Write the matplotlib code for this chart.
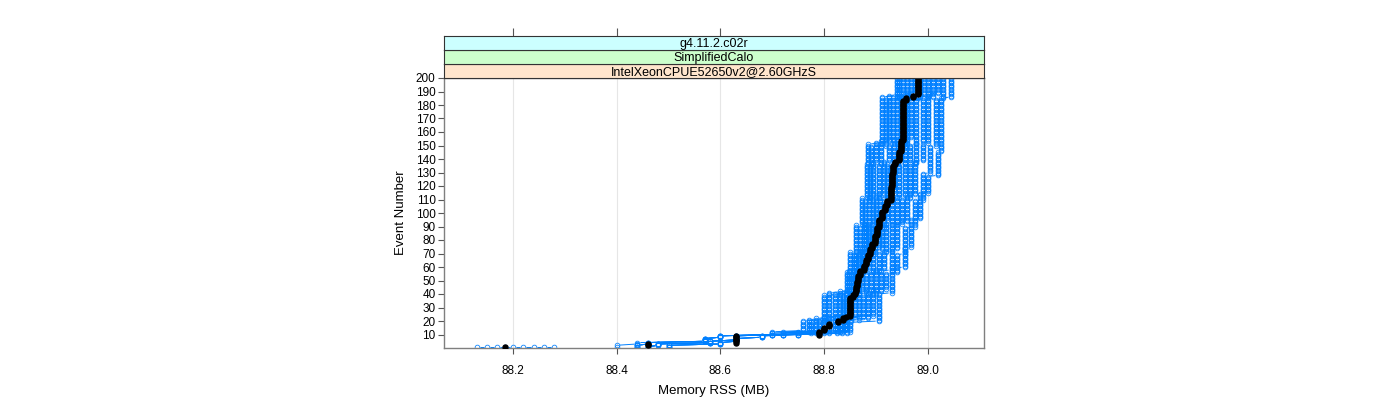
import numpy as np
import matplotlib.pyplot as plt
from matplotlib.collections import LineCollection

plt.rcParams['font.family'] = ['Liberation Sans', 'DejaVu Sans']

strip_labels = ['g4.11.2.c02r', 'SimplifiedCalo', 'IntelXeonCPUE52650v2@2.60GHzS']
strip_colors = ['#ccffff', '#ccffcc', '#ffe5cc']

x_ticks = [88.2, 88.4, 88.6, 88.8, 89.0]
y_ticks = list(range(10, 201, 10))
n_events = 200

# start-up samples, all logged at event 1
startup_mem = [88.13, 88.15, 88.17, 88.185, 88.20, 88.22, 88.24, 88.26, 88.28]

# each run: (first event of step, memory RSS in MB)
runs = [
    [(1, 88.40), (3, 88.44), (5, 88.57), (8, 88.60), (10, 88.70), (13, 88.76), (21, 88.80), (40, 88.845), (57, 88.85), (72, 88.862), (92, 88.872), (112, 88.882), (137, 88.885), (152, 88.912), (187, 88.94)],
    [(1, 88.44), (3, 88.46), (5, 88.57), (8, 88.60), (10, 88.70), (12, 88.77), (22, 88.81), (42, 88.848), (58, 88.858), (70, 88.87), (90, 88.878), (110, 88.888), (135, 88.89), (150, 88.92), (185, 88.945)],
    [(1, 88.44), (3, 88.46), (5, 88.57), (8, 88.60), (10, 88.70), (11, 88.775), (20, 88.82), (41, 88.852), (55, 88.862), (73, 88.876), (93, 88.886), (113, 88.895), (138, 88.90), (153, 88.925), (188, 88.952)],
    [(1, 88.44), (3, 88.46), (5, 88.57), (8, 88.60), (10, 88.70), (11, 88.785), (23, 88.83), (43, 88.856), (59, 88.868), (71, 88.88), (91, 88.895), (111, 88.905), (136, 88.91), (154, 88.932), (186, 88.96)],
    [(1, 88.44), (3, 88.46), (5, 88.57), (8, 88.60), (10, 88.70), (12, 88.79), (21, 88.836), (39, 88.86), (56, 88.872), (74, 88.886), (94, 88.90), (114, 88.915), (139, 88.925), (151, 88.94), (187, 88.968)],
    [(1, 88.46), (2, 88.48), (4, 88.58), (6, 88.63), (10, 88.72), (11, 88.80), (24, 88.842), (42, 88.864), (57, 88.876), (72, 88.892), (92, 88.908), (112, 88.922), (137, 88.935), (155, 88.948), (189, 88.975)],
    [(1, 88.46), (2, 88.48), (4, 88.58), (6, 88.63), (10, 88.72), (11, 88.81), (22, 88.848), (40, 88.868), (58, 88.88), (70, 88.898), (90, 88.915), (110, 88.928), (135, 88.942), (152, 88.955), (185, 88.98)],
    [(1, 88.46), (2, 88.48), (4, 88.58), (6, 88.63), (10, 88.72), (13, 88.82), (20, 88.852), (44, 88.872), (60, 88.886), (75, 88.905), (95, 88.922), (115, 88.935), (140, 88.948), (150, 88.96), (186, 88.985)],
    [(1, 88.46), (2, 88.48), (4, 88.58), (6, 88.63), (10, 88.72), (11, 88.825), (25, 88.86), (41, 88.88), (56, 88.895), (73, 88.912), (91, 88.93), (112, 88.945), (136, 88.955), (156, 88.968), (188, 88.992)],
    [(1, 88.46), (2, 88.48), (4, 88.58), (6, 88.63), (10, 88.72), (12, 88.83), (21, 88.868), (43, 88.89), (57, 88.905), (71, 88.92), (93, 88.94), (113, 88.955), (138, 88.965), (151, 88.978), (187, 89.0)],
    [(1, 88.50), (3, 88.60), (5, 88.63), (8, 88.68), (10, 88.75), (11, 88.835), (23, 88.875), (40, 88.90), (59, 88.915), (72, 88.93), (92, 88.95), (111, 88.965), (137, 88.978), (153, 88.99), (186, 89.01)],
    [(1, 88.50), (3, 88.60), (5, 88.63), (8, 88.68), (10, 88.75), (13, 88.84), (22, 88.885), (42, 88.91), (58, 88.93), (74, 88.94), (94, 88.96), (114, 88.975), (139, 88.99), (152, 89.0), (189, 89.02)],
    [(1, 88.50), (3, 88.60), (5, 88.63), (8, 88.68), (10, 88.75), (11, 88.845), (24, 88.895), (44, 88.92), (56, 88.94), (70, 88.955), (90, 88.975), (110, 88.99), (130, 89.005), (150, 89.015), (185, 89.03)],
    [(1, 88.50), (3, 88.60), (5, 88.63), (8, 88.68), (10, 88.75), (12, 88.85), (20, 88.905), (41, 88.93), (60, 88.955), (75, 88.968), (96, 88.985), (115, 89.0), (128, 89.02), (146, 89.025), (186, 89.045)],
]

# median over runs
median_steps = [(1, 88.185), (2, 88.46), (4, 88.63), (10, 88.79), (13, 88.80), (16, 88.81), (19, 88.826),
                (21, 88.836), (23, 88.842), (24, 88.85), (38, 88.855), (40, 88.860), (42, 88.862),
                (46, 88.864), (50, 88.866), (54, 88.870), (58, 88.876), (62, 88.880), (66, 88.884),
                (70, 88.888), (74, 88.893), (78, 88.898), (84, 88.902), (90, 88.906), (96, 88.912),
                (102, 88.918), (106, 88.922), (110, 88.928), (120, 88.930), (130, 88.932), (136, 88.936),
                (139, 88.944), (146, 88.948), (154, 88.952), (184, 88.958), (186, 88.972), (188, 88.98)]


def expand(steps):
    ev = np.arange(1, n_events + 1)
    starts = np.array([s[0] for s in steps])
    vals = np.array([s[1] for s in steps])
    idx = np.searchsorted(starts, ev, side='right') - 1
    return ev, vals[idx]


fig = plt.figure(figsize=(14, 4), dpi=100)
ax = fig.add_axes([0.3171, 0.13, 0.3857, 0.675])
ax.set_xlim(88.067, 89.108)
ax.set_ylim(0, 200)

blue = '#0080ff'
gap = 3.0  # px left open around each point, like R's type = "b"
segs = []


def draw_b(mem, ev):
    ax.plot(mem, ev, ls='none', marker='o', ms=3.4, mfc='none', mec=blue, mew=0.55, zorder=2)
    pts = ax.transData.transform(np.column_stack([mem, ev]))
    for p1, p2 in zip(pts[:-1], pts[1:]):
        d = np.hypot(*(p2 - p1))
        if d > 2 * gap + 0.5:
            u = (p2 - p1) / d
            segs.append(ax.transData.inverted().transform(np.array([p1 + gap * u, p2 - gap * u])))


draw_b(np.array(startup_mem), np.ones(len(startup_mem)))
for r in runs:
    ev, mem = expand(r)
    draw_b(mem, ev)
ax.add_collection(LineCollection(segs, colors=blue, linewidths=0.7, zorder=2))

ev, med = expand(median_steps)
ax.plot(med, ev, ls='none', marker='o', ms=3.6, color='black', zorder=3)

for x in x_ticks:
    ax.axvline(x, color='#e6e6e6', lw=0.8, zorder=0)
ax.set_xticks(x_ticks)
ax.set_xticklabels(['88.2', '88.4', '88.6', '88.8', '89.0'])
ax.set_yticks(y_ticks)
ax.tick_params(axis='both', direction='out', length=4, width=0.8, color='#555555', labelsize=8.5, pad=2)
ax.tick_params(axis='x', pad=8)
for s in ax.spines.values():
    s.set_color('#7f7f7f')
    s.set_linewidth(1.0)
ax.set_xlabel('Memory RSS (MB)', fontsize=9.5, labelpad=6)
ax.set_ylabel('Event Number', fontsize=9.5, labelpad=6)

# strips, bottom to top
h = 14 / 400
bottom = 0.805
for i, (lab, col) in enumerate(zip(strip_labels[::-1], strip_colors[::-1])):
    sax = fig.add_axes([0.3171, bottom + i * h, 0.3857, h])
    sax.set_facecolor(col)
    sax.set_xlim(ax.get_xlim())
    sax.set_yticks([])
    sax.text(0.5, 0.45, lab, transform=sax.transAxes, ha='center', va='center', fontsize=9)
    for s in sax.spines.values():
        s.set_color('#333333')
        s.set_linewidth(0.8)
    if i == 2:
        sax.set_xticks(x_ticks)
        sax.tick_params(axis='x', bottom=False, top=True, labelbottom=False, labeltop=False,
                        direction='out', length=6, width=0.8, color='#555555')
    else:
        sax.set_xticks([])

fig.savefig('out.png', dpi=100)
